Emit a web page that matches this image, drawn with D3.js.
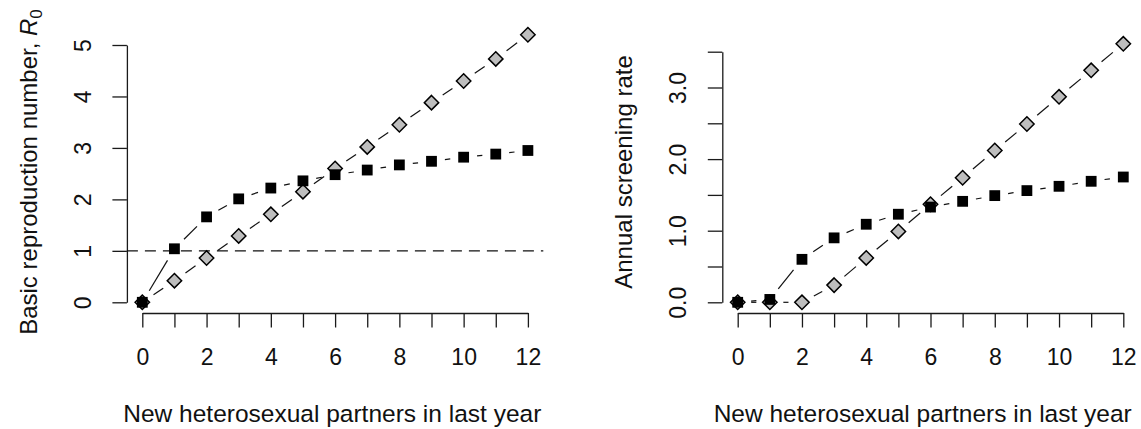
<!DOCTYPE html>
<html>
  <head>
    <meta http-equiv="Content-type" content="text/html; charset=utf-8">
    <title>R0 and screening rate</title>
    <script src="https://d3js.org/d3.v7.min.js"></script>
    <style>
      body { margin: 0; background: #fff; }
      text { font-family: "Liberation Sans", Arial, sans-serif; fill: #111; }
    </style>
  </head>
  <body>
  <div id="chart"></div>
  <script type="text/javascript">
    // x values: new heterosexual partners in last year
    var partners = [0, 1, 2, 3, 4, 5, 6, 7, 8, 9, 10, 11, 12];
    var xTickLabels = ['0', '', '2', '', '4', '', '6', '', '8', '', '10', '', '12'];

    // left panel: basic reproduction number R0
    var r0Squares  = [0, 1.04, 1.66, 2.01, 2.22, 2.36, 2.48, 2.57, 2.67, 2.74, 2.82, 2.88, 2.95];
    var r0Diamonds = [0, 0.42, 0.86, 1.29, 1.71, 2.15, 2.60, 3.02, 3.45, 3.88, 4.30, 4.73, 5.20];
    var r0Ticks = [0, 1, 2, 3, 4, 5];
    var r0Threshold = 1;

    // right panel: annual screening rate
    var screenSquares  = [0, 0.04, 0.60, 0.90, 1.09, 1.23, 1.33, 1.41, 1.49, 1.56, 1.62, 1.69, 1.75];
    var screenDiamonds = [0, 0, 0, 0.24, 0.62, 0.99, 1.37, 1.74, 2.12, 2.49, 2.87, 3.24, 3.61];
    var screenTicks = [0, 0.5, 1, 1.5, 2, 2.5, 3, 3.5];
    var screenTickLabels = ['0.0', '', '1.0', '', '2.0', '', '3.0', ''];

    var width = 1141, height = 429;
    var svg = d3.select('#chart').append('svg')
      .attr('width', width).attr('height', height);

    var xAxisY = 313, tickLen = 14.5, gap = 13.5;

    function drawPanel(p) {
      var x = d3.scaleLinear().domain([0, 12]).range([p.x0, p.x0 + 385.6]);
      var y = d3.scaleLinear().domain([0, p.yTop]).range([302.3, p.yTopPx]);
      var yAxisX = p.x0 - 15.4;
      var g = svg.append('g');

      // x axis
      var xa = g.append('g').attr('transform', 'translate(0,' + xAxisY + ')')
        .call(d3.axisBottom(x).tickValues(partners).tickSize(tickLen).tickSizeOuter(0)
          .tickFormat(function(d, i) { return xTickLabels[i]; }));
      xa.selectAll('text').attr('y', 52).attr('dy', null).style('font-size', '23px');

      // y axis
      var ya = g.append('g').attr('transform', 'translate(' + yAxisX + ',0)')
        .call(d3.axisLeft(y).tickValues(p.yTicks).tickSize(tickLen).tickSizeOuter(0)
          .tickFormat(function(d, i) { return p.yLabels[i]; }));
      ya.selectAll('text').attr('x', null).attr('dy', null)
        .attr('text-anchor', 'middle')
        .attr('transform', 'translate(-36,0) rotate(-90)')
        .style('font-size', '23px');

      g.selectAll('.domain, .tick line').attr('stroke', '#1a1a1a').attr('stroke-width', 1.3);
      g.selectAll('.tick text').attr('fill', '#111');

      // reference line
      if (p.hline !== undefined) {
        g.append('line')
          .attr('x1', yAxisX).attr('x2', p.x0 + 385.6 + 15.4)
          .attr('y1', y(p.hline)).attr('y2', y(p.hline))
          .attr('stroke', '#111').attr('stroke-width', 1.3)
          .attr('stroke-dasharray', '11,7');
      }

      // connecting segments with gaps around points (type = "b")
      function segments(vals) {
        var pts = partners.map(function(d, i) { return [x(d), y(vals[i])]; });
        var segs = [];
        for (var i = 0; i < pts.length - 1; i++) {
          var dx = pts[i + 1][0] - pts[i][0], dy = pts[i + 1][1] - pts[i][1];
          var len = Math.sqrt(dx * dx + dy * dy);
          if (len <= 2 * gap) continue;
          var ux = dx / len, uy = dy / len;
          segs.push([pts[i][0] + ux * gap, pts[i][1] + uy * gap,
                     pts[i + 1][0] - ux * gap, pts[i + 1][1] - uy * gap]);
        }
        return segs;
      }
      [p.diamonds, p.squares].forEach(function(vals) {
        g.selectAll(null).data(segments(vals)).enter().append('line')
          .attr('x1', function(s) { return s[0]; }).attr('y1', function(s) { return s[1]; })
          .attr('x2', function(s) { return s[2]; }).attr('y2', function(s) { return s[3]; })
          .attr('stroke', '#111').attr('stroke-width', 1.2);
      });

      // diamonds
      g.selectAll(null).data(p.diamonds).enter().append('path')
        .attr('d', 'M0,-7.2L7.2,0L0,7.2L-7.2,0Z')
        .attr('transform', function(d, i) { return 'translate(' + x(partners[i]) + ',' + y(d) + ')'; })
        .attr('fill', '#bebebe').attr('stroke', '#000').attr('stroke-width', 1.5);

      // squares
      g.selectAll(null).data(p.squares).enter().append('rect')
        .attr('x', function(d, i) { return x(partners[i]) - 5.4; })
        .attr('y', function(d) { return y(d) - 5.4; })
        .attr('width', 10.8).attr('height', 10.8).attr('fill', '#000');

      // axis titles
      g.append('text')
        .attr('x', p.x0 + p.titleShift).attr('y', 422)
        .attr('text-anchor', 'middle').style('font-size', '24.5px')
        .text('New heterosexual partners in last year');

      var yt = g.append('text')
        .attr('transform', 'translate(' + (yAxisX - 90) + ',172) rotate(-90)')
        .attr('text-anchor', 'middle').style('font-size', '24px');
      p.yTitle(yt);
    }

    drawPanel({
      x0: 142.3, yTop: 5, yTopPx: 45, titleShift: 190,
      yTicks: r0Ticks, yLabels: r0Ticks.map(String),
      squares: r0Squares, diamonds: r0Diamonds, hline: r0Threshold,
      yTitle: function(t) {
        t.append('tspan').text('Basic reproduction number, ');
        t.append('tspan').style('font-style', 'italic').text('R');
        t.append('tspan').attr('dy', 5).style('font-size', '17px').text('0');
      }
    });

    drawPanel({
      x0: 737.7, yTop: 3.5, yTopPx: 51.7, titleShift: 185,
      yTicks: screenTicks, yLabels: screenTickLabels,
      squares: screenSquares, diamonds: screenDiamonds,
      yTitle: function(t) { t.text('Annual screening rate'); }
    });
  </script>
  </body>
</html>
